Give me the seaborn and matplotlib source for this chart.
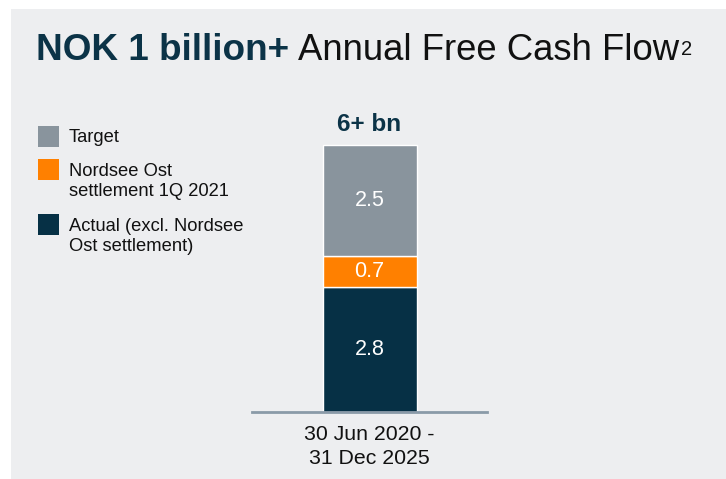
import matplotlib
matplotlib.use('Agg')
import matplotlib.pyplot as plt
import seaborn as sns
import pandas as pd
from matplotlib.patches import Rectangle

# ── Data ────────────────────────────────────────────────────
period = ['30 Jun 2020 -\n31 Dec 2025']
actual = [2.8]        # Actual (excl. Nordsee Ost settlement)
nordsee = [0.7]       # Nordsee Ost settlement 1Q 2021
target = [2.5]        # Target
total_label = '6+ bn'

legend_labels = ['Target', 'Nordsee Ost\nsettlement 1Q 2021',
                 'Actual (excl. Nordsee\nOst settlement)']
legend_colors = ['#89949d', '#ff8000', '#063045']

# ── Style ───────────────────────────────────────────────────
sns.set_style('white')
plt.rcParams['font.family'] = ['Liberation Sans', 'DejaVu Sans']

W, H = 726, 479
fig = plt.figure(figsize=(W / 100, H / 100), dpi=100, facecolor='white')

# light grey panel behind everything
fig.patches.append(Rectangle((11 / W, 0), 1 - 11 / W, 1 - 9 / H,
                             transform=fig.transFigure, facecolor='#edeef0',
                             edgecolor='none', zorder=-10))

def px(x, y):
    # pixel coords (top-left origin) -> figure fraction
    return x / W, 1 - y / H

# ── Stacked bar ─────────────────────────────────────────────
ax = fig.add_axes([252 / W, 67 / H, 235 / W, 6.2 * 44.5 / H])
ax.set_facecolor('none')

df = pd.DataFrame({'period': period, 'actual': actual,
                   'nordsee': nordsee, 'target': target})
df['nordsee_bottom'] = df['actual']
df['target_bottom'] = df['actual'] + df['nordsee']

sns.barplot(data=df, x='period', y='actual', color=legend_colors[2],
            saturation=1, width=1.0, edgecolor='white', linewidth=1, ax=ax)
sns.barplot(data=df, x='period', y='nordsee', bottom=df['nordsee_bottom'],
            color=legend_colors[1], saturation=1, width=1.0,
            edgecolor='white', linewidth=1, ax=ax)
sns.barplot(data=df, x='period', y='target', bottom=df['target_bottom'],
            color=legend_colors[0], saturation=1, width=1.0,
            edgecolor='white', linewidth=1, ax=ax)

# values inside segments
for p in ax.patches:
    ax.text(p.get_x() + p.get_width() / 2, p.get_y() + p.get_height() / 2,
            f'{p.get_height():.1f}', ha='center', va='center',
            color='white', fontsize=15.5)

top = (df['actual'] + df['nordsee'] + df['target']).iloc[0]
ax.text(0, top + 0.2, total_label, ha='center', va='bottom',
        fontsize=17.5, fontweight='bold', color='#0b3347')

ax.set_xlim(-1.25, 1.25)
ax.set_ylim(0, 6.2)
ax.set_xlabel('')
ax.set_ylabel('')
ax.set_yticks([])
sns.despine(ax=ax, left=True)
ax.spines['bottom'].set_color('#8a9aa8')
ax.spines['bottom'].set_linewidth(2)
ax.tick_params(axis='x', length=0, pad=9, labelsize=15.3)
for t in ax.get_xticklabels():
    t.set_linespacing(1.4)
    t.set_color('#111111')

# ── Legend ──────────────────────────────────────────────────
sq_tops = [126, 159, 214]
for lab, col, y0 in zip(legend_labels, legend_colors, sq_tops):
    fig.patches.append(Rectangle(px(38, y0 + 21), 21 / W, 21 / H,
                                 transform=fig.transFigure, facecolor=col,
                                 edgecolor='none'))
    n_lines = lab.count('\n') + 1
    if n_lines == 1:
        fig.text(*px(69, y0 + 11.5), lab, ha='left', va='center',
                 fontsize=13.2, color='#111111')
    else:
        fig.text(*px(69, y0 + 4), lab, ha='left', va='top',
                 fontsize=13.2, color='#111111', linespacing=1.25)

# ── Title ───────────────────────────────────────────────────
t1 = fig.text(*px(36, 60), 'NOK 1 billion+', ha='left', va='baseline',
              fontsize=26.6, fontweight='bold', color='#0b3347')
r = fig.canvas.get_renderer()
x1 = t1.get_window_extent(r).x1
t2 = fig.text(x1 / W + 9 / W, 1 - 60 / H, 'Annual Free Cash Flow',
              ha='left', va='baseline', fontsize=26.3, color='#111111')
x2 = t2.get_window_extent(r).x1
fig.text(x2 / W + 2 / W, 1 - 55 / H, '2', ha='left', va='baseline',
         fontsize=14.5, color='#111111')

fig.savefig('out.png', dpi=100, facecolor=fig.get_facecolor())
